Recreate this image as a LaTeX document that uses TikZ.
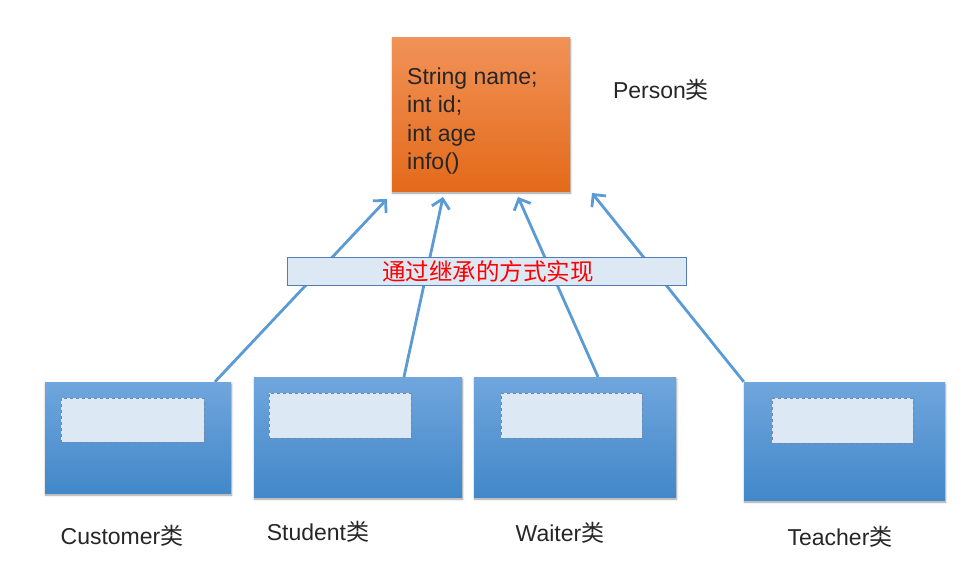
\documentclass[tikz,border=0pt]{standalone}
\usepackage{fontspec}
\setmainfont{Liberation Sans}
\newfontfamily\cjk{Noto Sans CJK SC}
\usetikzlibrary{arrows.meta,shadows.blur,backgrounds,calc}
\definecolor{orTop}{RGB}{241,146,88}
\definecolor{orBot}{RGB}{227,106,26}
\definecolor{blTop}{RGB}{112,166,221}
\definecolor{blBot}{RGB}{66,136,201}
\definecolor{paleBlue}{RGB}{221,232,245}
\definecolor{bannerLine}{RGB}{84,124,180}
\definecolor{arrowBlue}{RGB}{91,155,213}
\definecolor{dashLine}{RGB}{115,135,165}
\tikzset{
  txt/.style={font=\fontsize{23pt}{28.5pt}\selectfont, text=black!85},
  parentbox/.style={draw=none, shading=axis, top color=orTop, bottom color=orBot,
     blur shadow={shadow xshift=0.5pt, shadow yshift=-2pt, shadow blur steps=5, shadow opacity=40}},
  childbox/.style={draw=none, shading=axis, top color=blTop, bottom color=blBot,
     blur shadow={shadow xshift=0.5pt, shadow yshift=-2pt, shadow blur steps=5, shadow opacity=40}},
  slot/.style={draw=dashLine, fill=paleBlue, dashed, line width=0.9pt},
  banner/.style={draw=bannerLine, fill=paleBlue, line width=1pt},
  inherit/.style={draw=arrowBlue, line width=2.8pt, -{Straight Barb[length=9pt,width=18pt,line width=2.8pt]}}
}
\begin{document}
\begin{tikzpicture}[x=1pt,y=-1pt]
\useasboundingbox (0,0) rectangle (979,560);
% parent
\node[parentbox, minimum width=178pt, minimum height=154pt, inner sep=0pt] (person) at (481,114) {};
\node[txt, align=left, anchor=west, inner sep=0pt] (fields) at (407,121)
  {String name;\\int id;\\int age\\info()};
\node[txt] (plabel) at (661,90) {Person{\cjk 类}};
% children
\node[childbox, minimum width=186pt, minimum height=111pt, inner sep=0pt] (cust) at (138,437.5) {};
\node[slot, minimum width=143pt, minimum height=44pt, inner sep=0pt] (custslot) at (132.5,420) {};
\node[childbox, minimum width=208pt, minimum height=120pt, inner sep=0pt] (stud) at (358,437) {};
\node[slot, minimum width=142pt, minimum height=45pt, inner sep=0pt] (studslot) at (340,415.5) {};
\node[childbox, minimum width=202pt, minimum height=120pt, inner sep=0pt] (wait) at (575,437) {};
\node[slot, minimum width=141pt, minimum height=45pt, inner sep=0pt] (waitslot) at (571.5,415.5) {};
\node[childbox, minimum width=201pt, minimum height=118pt, inner sep=0pt] (teach) at (844.5,441) {};
\node[slot, minimum width=141pt, minimum height=45pt, inner sep=0pt] (teachslot) at (842.5,420.5) {};
% labels
\node[txt] (custlabel) at (122,536) {Customer{\cjk 类}};
\node[txt] (studlabel) at (318,532) {Student{\cjk 类}};
\node[txt] (waitlabel) at (560,533) {Waiter{\cjk 类}};
\node[txt] (teachlabel) at (840,537) {Teacher{\cjk 类}};
% banner
\node[banner, minimum width=399pt, minimum height=28pt, inner sep=0pt] (band) at (486.5,271) {};
\node[font=\fontsize{23.5pt}{26pt}\selectfont\cjk, text=red, inner sep=0pt] (bandtext) at (488,272) {通过继承的方式实现};
% arrow tips
\coordinate (t1) at (387,199);
\coordinate (t2) at (443,197);
\coordinate (t3) at (518,197);
\coordinate (t4) at (592,193);
\begin{scope}[on background layer]
\draw[inherit] ([xshift=77pt]cust.north) -- (t1);
\draw[inherit] ([xshift=46pt]stud.north) -- (t2);
\draw[inherit] ([xshift=23pt]wait.north) -- (t3);
\draw[inherit] (teach.north west) -- (t4);
\end{scope}
\end{tikzpicture}
\end{document}
